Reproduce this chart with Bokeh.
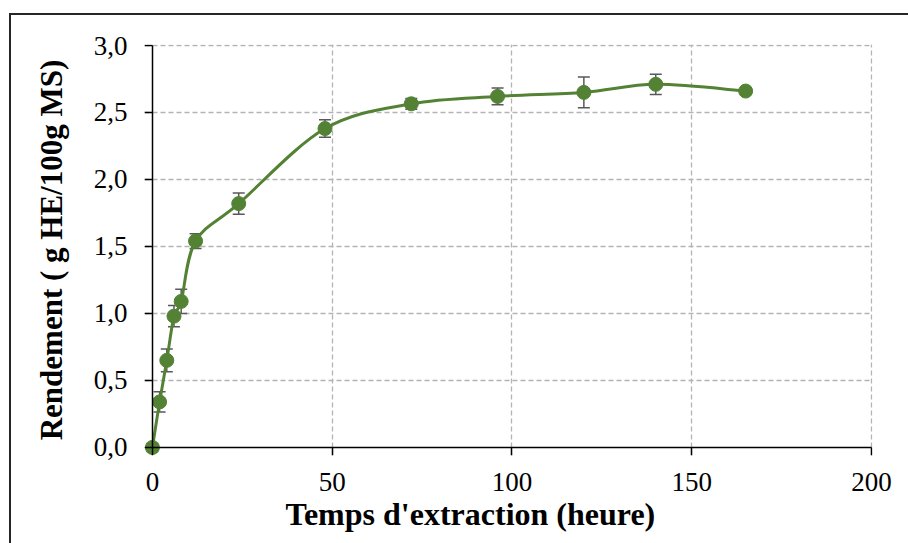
import numpy as np
from bokeh.plotting import figure
from bokeh.models import (ColumnDataSource, Whisker, FixedTicker, CustomJSTickFormatter,
                          TeeHead, Range1d, LinearAxis, Title)
from bokeh.embed import file_html
from bokeh.resources import INLINE

# ---- data ----
hours = [0, 2, 4, 6, 8, 12, 24, 48, 72, 96, 120, 140, 165]
rendement = [0.0, 0.34, 0.65, 0.98, 1.09, 1.54, 1.82, 2.38, 2.565, 2.62, 2.65, 2.71, 2.66]
erreur = [0.03, 0.075, 0.085, 0.08, 0.09, 0.055, 0.08, 0.065, 0.04, 0.062, 0.115, 0.075, 0.0]
x_ticks = [0, 50, 100, 150, 200]
y_ticks = [0.0, 0.5, 1.0, 1.5, 2.0, 2.5, 3.0]
x_label = "Temps d'extraction (heure)"
y_label = "Rendement ( g HE/100g MS)"

GREEN = "#548235"
FONT = "Liberation Serif"

# ---- smoothed line (Excel-like Catmull-Rom Bezier through the data) ----
xs = np.array(hours, float)
ys = np.array(rendement, float)
n = len(xs)
xp = np.concatenate([[xs[0]], xs, [xs[-1]]])
yp = np.concatenate([[ys[0]], ys, [ys[-1]]])
seg = dict(
    x0=xs[:-1], y0=ys[:-1], x1=xs[1:], y1=ys[1:],
    cx0=xs[:-1] + (xp[2:n + 1] - xp[0:n - 1]) / 6.0,
    cy0=ys[:-1] + (yp[2:n + 1] - yp[0:n - 1]) / 6.0,
    cx1=xs[1:] - (xp[3:n + 2] - xp[1:n]) / 6.0,
    cy1=ys[1:] - (yp[3:n + 2] - yp[1:n]) / 6.0,
)
seg_src = ColumnDataSource(seg)

src = ColumnDataSource(dict(
    x=hours, y=rendement,
    upper=[a + b for a, b in zip(rendement, erreur)],
    lower=[a - b for a, b in zip(rendement, erreur)],
))

# ranges padded by about one marker radius so the point at the origin is not clipped,
# and by ~1px at the far ends so the last grid lines are drawn
p = figure(width=899, height=530, x_range=Range1d(-2.2, 200.28), y_range=Range1d(-0.06, 3.0075),
           output_backend="svg", toolbar_location=None,
           min_border_left=133, min_border_right=38, min_border_top=29, min_border_bottom=90)
p.margin = (13, 0, 0, 9)
p.styles = {"border-left": "2px solid #262626", "border-top": "2px solid #262626"}
p.background_fill_color = "white"
p.border_fill_color = "white"
p.outline_line_color = None

# grid
for g in (p.xgrid, p.ygrid):
    g.grid_line_color = "#b3b3b3"
    g.grid_line_dash = "5 3"
    g.grid_line_width = 1.3
p.xgrid.ticker = FixedTicker(ticks=x_ticks[1:])
p.ygrid.ticker = FixedTicker(ticks=y_ticks[1:])

# default axes: tick labels and titles only
p.xaxis.ticker = FixedTicker(ticks=x_ticks)
p.yaxis.ticker = FixedTicker(ticks=y_ticks)
p.yaxis.formatter = CustomJSTickFormatter(code="return tick.toFixed(1).replace('.', ',');")
for ax in (p.xaxis, p.yaxis):
    ax.axis_line_color = None
    ax.major_tick_line_color = None
    ax.minor_tick_line_color = None
    ax.major_tick_out = 0
    ax.major_tick_in = 0
    ax.major_label_text_font = FONT
    ax.major_label_text_font_size = "27px"
    ax.major_label_text_color = "black"
p.xaxis.major_label_standoff = 17
p.yaxis.major_label_standoff = 17
p.yaxis.axis_label = y_label
p.yaxis.axis_label_text_font = FONT
p.yaxis.axis_label_text_font_size = "31px"
p.yaxis.axis_label_text_font_style = "bold"
p.yaxis.axis_label_text_color = "black"
p.yaxis.axis_label_standoff = 22

p.add_layout(Title(text=x_label, align="left", offset=141, vertical_align="top", standoff=4,
                   text_font=FONT, text_font_size="32px", text_font_style="bold",
                   text_color="black"), "below")

# axis lines and tick marks pinned at zero
def line_axis(ticks, bnds):
    return LinearAxis(fixed_location=0, bounds=bnds, ticker=FixedTicker(ticks=ticks),
                      axis_line_color="black", axis_line_width=1.5,
                      major_tick_line_color="black", major_tick_line_width=1.5,
                      major_tick_in=8, major_tick_out=0, minor_tick_line_color=None,
                      major_label_text_alpha=0, major_label_text_font_size="1px",
                      major_label_standoff=0)

p.add_layout(line_axis(y_ticks, (y_ticks[0], y_ticks[-1])), "right")
p.add_layout(line_axis(x_ticks, (x_ticks[0], x_ticks[-1])), "above")

# error bars
wh = Whisker(source=src, base="x", upper="upper", lower="lower",
             line_color="#595959", line_width=1.5,
             upper_head=TeeHead(size=12, line_color="#595959", line_width=1.5),
             lower_head=TeeHead(size=12, line_color="#595959", line_width=1.5))
p.add_layout(wh)

# smooth line + markers
p.bezier(x0="x0", y0="y0", x1="x1", y1="y1", cx0="cx0", cy0="cy0", cx1="cx1", cy1="cy1",
         source=seg_src, line_color=GREEN, line_width=3, line_cap="round")
p.scatter(x="x", y="y", source=src, size=14, fill_color=GREEN, line_color=GREEN)

open("out.html", "w").write(file_html(p, INLINE))
